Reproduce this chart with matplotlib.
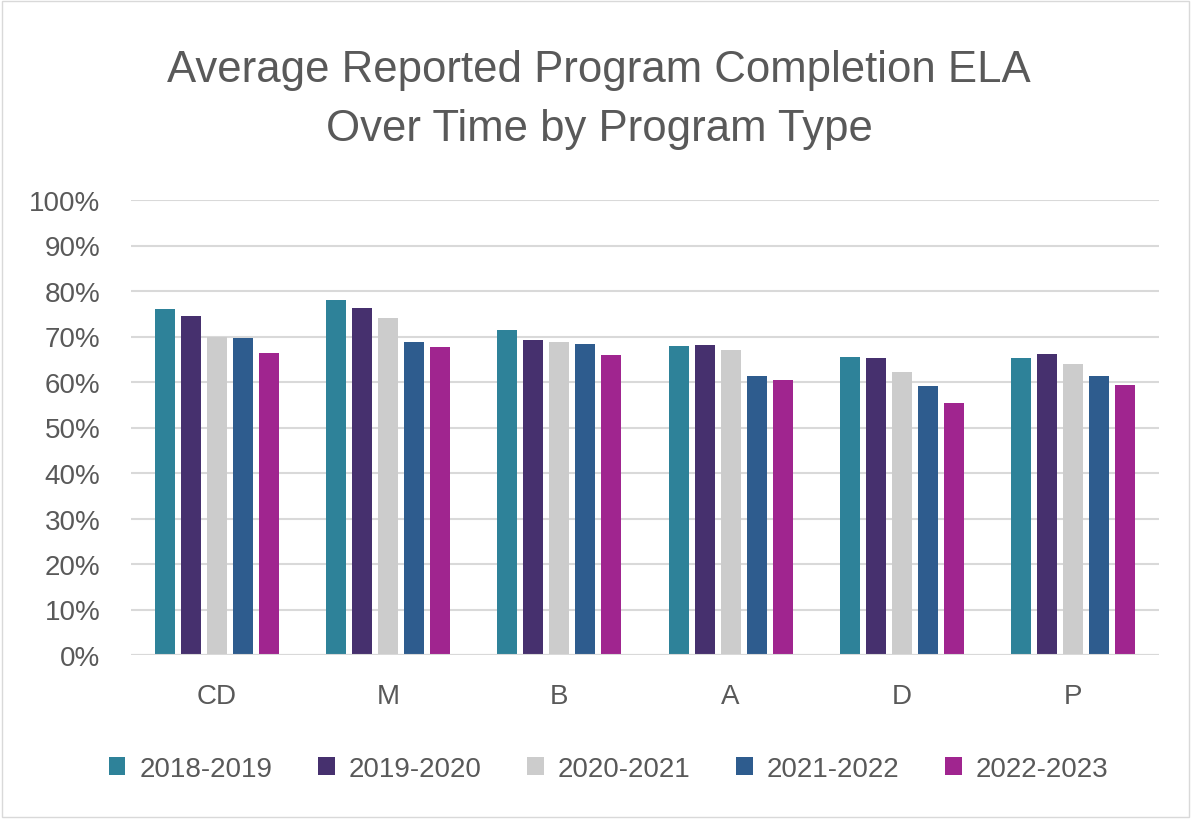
import matplotlib.pyplot as plt
import numpy as np

categories = ["CD", "M", "B", "A", "D", "P"]
years = ["2018-2019", "2019-2020", "2020-2021", "2021-2022", "2022-2023"]
values = {
    "2018-2019": [76.0, 78.1, 71.5, 68.0, 65.6, 65.3],
    "2019-2020": [74.5, 76.3, 69.3, 68.1, 65.2, 66.2],
    "2020-2021": [69.9, 74.0, 68.9, 67.1, 62.1, 63.9],
    "2021-2022": [69.6, 68.8, 68.4, 61.4, 59.1, 61.4],
    "2022-2023": [66.3, 67.6, 65.9, 60.4, 55.3, 59.3],
}
colors = ["#2E8299", "#46306E", "#CCCCCC", "#2E5C8E", "#A0258F"]

TEXT = "#595959"
plt.rcParams["font.family"] = ["Liberation Sans", "DejaVu Sans"]

fig = plt.figure(figsize=(11.91, 8.2), dpi=100)
ax = fig.add_axes([131 / 1191, 1 - 656 / 820, 1028 / 1191, 455 / 820])

x = np.arange(len(categories))
step = 0.152
width = 0.117
for i, (year, color) in enumerate(zip(years, colors)):
    ax.bar(x + (i - 2) * step, values[year], width, color=color, label=year, zorder=3)

ax.set_xlim(-0.5, len(categories) - 0.5)
ax.set_ylim(0, 100)
ax.set_yticks(np.arange(0, 101, 10))
ax.set_yticklabels([f"{v}%" for v in range(0, 101, 10)])
ax.set_xticks(x)
ax.set_xticklabels(categories)
ax.grid(axis="y", color="#D9D9D9", linewidth=1.5, zorder=0)
for s in ax.spines.values():
    s.set_visible(False)
ax.axhline(0, color="#D9D9D9", linewidth=1.5, zorder=4)
ax.tick_params(axis="both", length=0, labelsize=20, colors=TEXT)
ax.tick_params(axis="y", pad=22)
ax.tick_params(axis="x", pad=20)

fig.text(0.503, 1 - 100 / 820, "Average Reported Program Completion ELA\nOver Time by Program Type",
         ha="center", va="center", fontsize=31.5, color=TEXT, linespacing=1.55)

leg = fig.legend(loc="center", bbox_to_anchor=(0.511, 1 - 770 / 820), ncol=5, frameon=False,
                 fontsize=20, handlelength=0.6, handleheight=0.6, handletextpad=0.5,
                 columnspacing=1.65)
for t in leg.get_texts():
    t.set_color(TEXT)

fig.patches.append(plt.Rectangle((0.002, 0.002), 0.996, 0.996, transform=fig.transFigure,
                                 fill=False, edgecolor="#D9D9D9", linewidth=1))

fig.savefig("out.png", dpi=100)
